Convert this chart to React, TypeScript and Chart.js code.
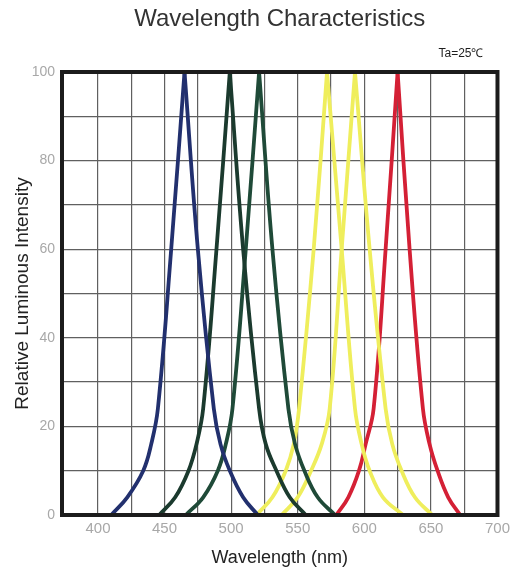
import React, { useEffect, useRef } from "react";
import { Chart, registerables } from "chart.js";

Chart.register(...registerables);

const TITLE = "Wavelength Characteristics";
const NOTE = "Ta=25℃";
const X_TITLE = "Wavelength (nm)";
const Y_TITLE = "Relative Luminous Intensity";

const X_TICKS = [400, 425, 450, 475, 500, 525, 550, 575, 600, 625, 650, 675, 700];
const X_LABELED = [400, 450, 500, 550, 600, 650, 700];
const Y_TICKS = [0, 10, 20, 30, 40, 50, 60, 70, 80, 90, 100];
const Y_LABELED = [0, 20, 40, 60, 80, 100];

// Relative intensity levels at which each curve was read (rise ... peak ... fall)
const LEVELS = [0, 4, 10, 16, 24, 60, 100, 60, 24, 16, 10, 4, 0];

// Wavelengths (nm) read at those levels
const BLUE_NM = [410, 422, 434, 440, 445, 455, 465, 475, 487, 492, 499, 509, 520];
const GREEN1_NM = [446, 458, 468, 474, 479, 489, 499, 509, 521, 526, 534, 544, 556];
const GREEN2_NM = [466, 479, 490, 496, 501, 511, 521, 531, 543, 548, 555, 565, 578];
const YELLOW1_NM = [519, 531, 541, 547, 551, 562, 572, 583, 593, 598, 604, 614, 629];
const YELLOW2_NM = [538, 550, 560, 568, 574, 583, 593, 604, 616, 621, 628, 638, 651];
const RED_NM = [579, 588, 596, 601, 607, 616, 625, 634, 644, 649, 655, 663, 672];

const BLUE_VAL = LEVELS;
const GREEN1_VAL = LEVELS;
const GREEN2_VAL = LEVELS;
const YELLOW1_VAL = LEVELS;
const YELLOW2_VAL = LEVELS;
const RED_VAL = LEVELS;

const SERIES = [
  { name: "Blue", nm: BLUE_NM, val: BLUE_VAL, color: "#22306e" },
  { name: "Green 1", nm: GREEN1_NM, val: GREEN1_VAL, color: "#1b3a2e" },
  { name: "Green 2", nm: GREEN2_NM, val: GREEN2_VAL, color: "#1f4a38" },
  { name: "Yellow 1", nm: YELLOW1_NM, val: YELLOW1_VAL, color: "#efee5c" },
  { name: "Yellow 2", nm: YELLOW2_NM, val: YELLOW2_VAL, color: "#efee5c" },
  { name: "Red", nm: RED_NM, val: RED_VAL, color: "#d42035" },
];

function buildDatasets() {
  const out: any[] = [];
  SERIES.forEach((s) => {
    const pts = s.nm.map((x, i) => ({ x, y: s.val[i] }));
    let peak = 0;
    s.val.forEach((v, i) => {
      if (v > s.val[peak]) peak = i;
    });
    const common = {
      borderColor: s.color,
      backgroundColor: s.color,
      borderWidth: 3.8,
      pointRadius: 0,
      fill: false,
      tension: 0.4,
      borderCapStyle: "round",
      borderJoinStyle: "miter",
    };
    out.push({ ...common, label: s.name + " (rise)", data: pts.slice(0, peak + 1) });
    out.push({ ...common, label: s.name + " (fall)", data: pts.slice(peak) });
  });
  return out;
}

const decor = {
  id: "decor",
  afterDatasetsDraw(chart: any) {
    const { ctx, chartArea: a } = chart;
    ctx.save();
    ctx.strokeStyle = "#1c1c1c";
    ctx.lineWidth = 4;
    ctx.strokeRect(a.left, a.top, a.right - a.left, a.bottom - a.top);
    ctx.restore();
  },
  afterDraw(chart: any) {
    const { ctx, chartArea: a } = chart;
    ctx.save();
    ctx.fillStyle = "#333333";
    ctx.font = "24px Arial, 'Liberation Sans', sans-serif";
    ctx.textAlign = "center";
    ctx.textBaseline = "middle";
    ctx.fillText(TITLE, (a.left + a.right) / 2, 19);
    ctx.fillStyle = "#1e1e1e";
    ctx.font = "12px Arial, 'Liberation Sans', sans-serif";
    ctx.textAlign = "right";
    ctx.fillText(NOTE, a.right - 14, 54);
    ctx.restore();
  },
};

export default function App() {
  const ref = useRef<HTMLCanvasElement | null>(null);

  useEffect(() => {
    if (!ref.current) return;
    const font = "Arial, 'Liberation Sans', sans-serif";
    const chart = new Chart(ref.current, {
      type: "line",
      data: { datasets: buildDatasets() },
      options: {
        animation: false,
        responsive: false,
        devicePixelRatio: 1,
        layout: { padding: { top: 72, left: 0, right: 14, bottom: 0 } },
        plugins: {
          legend: { display: false },
          title: { display: false },
          tooltip: { enabled: false },
        },
        scales: {
          x: {
            type: "linear",
            min: 373,
            max: 700,
            afterBuildTicks: (scale: any) => {
              scale.ticks = X_TICKS.map((v) => ({ value: v }));
            },
            afterFit: (scale: any) => {
              scale.height = 59;
            },
            grid: { color: "#606060", lineWidth: 1.2, drawTicks: false },
            border: { display: false },
            ticks: {
              autoSkip: false,
              maxRotation: 0,
              padding: 5,
              color: "#a8a8a8",
              font: { family: font, size: 15 },
              callback: (v: any) => (X_LABELED.includes(Number(v)) ? String(v) : ""),
            },
            title: {
              display: true,
              text: X_TITLE,
              color: "#222222",
              font: { family: font, size: 18 },
              padding: { top: 0, bottom: 5 },
            },
          },
          y: {
            type: "linear",
            min: 0,
            max: 100,
            afterBuildTicks: (scale: any) => {
              scale.ticks = Y_TICKS.map((v) => ({ value: v }));
            },
            afterFit: (scale: any) => {
              scale.width = 62;
            },
            grid: { color: "#606060", lineWidth: 1.2, drawTicks: false },
            border: { display: false },
            ticks: {
              autoSkip: false,
              padding: 7,
              color: "#a8a8a8",
              font: { family: font, size: 14 },
              callback: (v: any) => (Y_LABELED.includes(Number(v)) ? String(v) : ""),
            },
            title: {
              display: true,
              text: Y_TITLE,
              color: "#222222",
              font: { family: font, size: 19 },
              padding: { top: 11, bottom: 0 },
            },
          },
        },
      },
      plugins: [decor],
    } as any);
    return () => chart.destroy();
  }, []);

  return (
    <div style={{ position: "absolute", left: 0, top: 0, width: 515, height: 574, background: "#ffffff" }}>
      <canvas ref={ref} width={515} height={574} style={{ display: "block" }} />
    </div>
  );
}
